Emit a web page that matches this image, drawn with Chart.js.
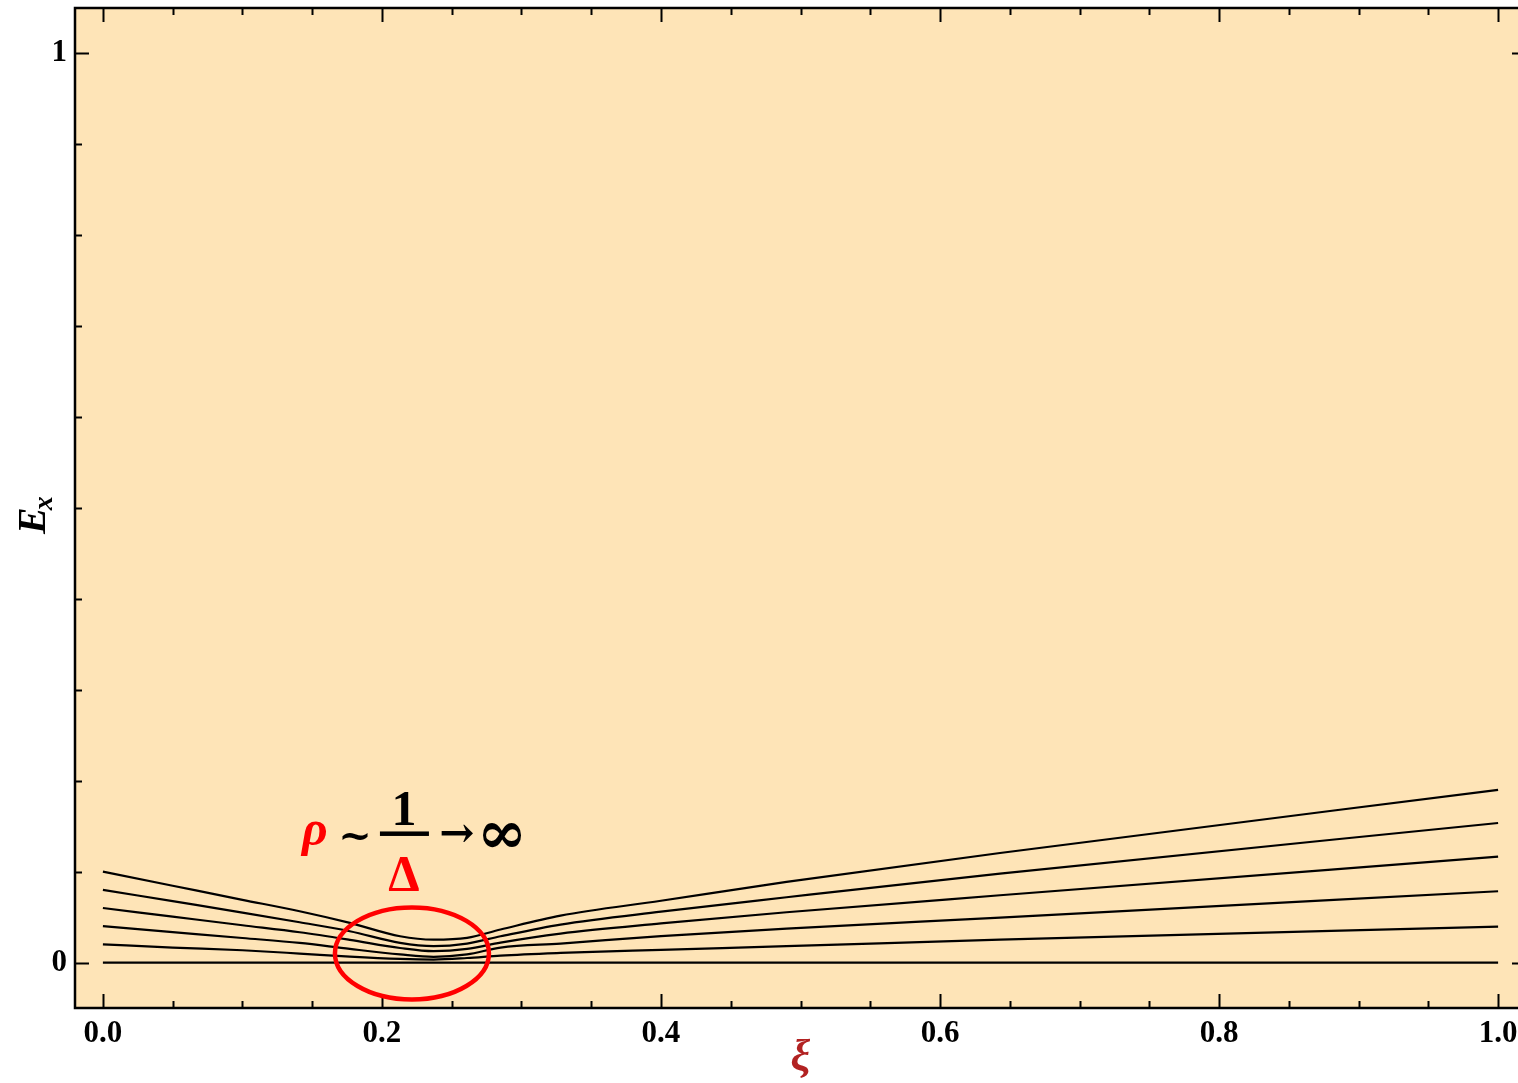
<!DOCTYPE html>
<html>
<head>
<meta charset="utf-8">
<script src="https://cdn.jsdelivr.net/npm/chart.js@4.4.1/dist/chart.umd.min.js"></script>
<style>
  html, body { margin: 0; padding: 0; background: #fff; overflow: hidden; }
  #wrap { width: 1534px; height: 1083px; position: relative; }
</style>
</head>
<body>
<div id="wrap"><canvas id="chart"></canvas></div>
<script>
const xi = [0, 0.05, 0.1, 0.141, 0.177, 0.213, 0.237, 0.261, 0.285, 0.328, 0.4, 0.49, 0.643, 1.0];

// E_x curves, top to bottom
const curve5 = [0.100, 0.0845, 0.069, 0.0564, 0.0436, 0.0289, 0.0252, 0.0272, 0.0363, 0.0516, 0.068, 0.0887, 0.1205, 0.190];
const curve4 = [0.080, 0.0675, 0.055, 0.0443, 0.0344, 0.0216, 0.0180, 0.0209, 0.0289, 0.0418, 0.056, 0.0718, 0.0978, 0.1535];
const curve3 = [0.060, 0.0505, 0.041, 0.0333, 0.025, 0.016, 0.0125, 0.015, 0.022, 0.0319, 0.043, 0.0553, 0.074, 0.1165];
const curve2 = [0.040, 0.0335, 0.027, 0.0216, 0.015, 0.009, 0.0063, 0.009, 0.0165, 0.0209, 0.029, 0.0374, 0.0495, 0.0784];
const curve1 = [0.020, 0.0165, 0.0135, 0.0099, 0.0065, 0.004, 0.0033, 0.005, 0.0077, 0.0106, 0.014, 0.018, 0.0253, 0.0396];
const curve0 = [0, 0, 0, 0, 0, 0, 0, 0, 0, 0, 0, 0, 0, 0];

// tick positions
const xMajor = [0, 0.2, 0.4, 0.6, 0.8, 1.0];
const xMinor = [0.05, 0.1, 0.15, 0.25, 0.3, 0.35, 0.45, 0.5, 0.55, 0.65, 0.7, 0.75, 0.85, 0.9, 0.95];
const yMajor = [0, 1];
const yMinor = [0.1, 0.2, 0.3, 0.4, 0.5, 0.6, 0.7, 0.8, 0.9];

// where the gap marker sits (data coords)
const gapCenter = { x: 0.2215, y: 0.01 };

const serif = '"Liberation Serif", "Times New Roman", serif';
const symFont = '"DejaVu Serif", serif';

function toPoints(ys) {
  return ys.map((y, i) => ({ x: xi[i], y: y }));
}

const frameAndTicks = {
  id: 'frameAndTicks',
  beforeDraw(chart) {
    const { ctx, chartArea: a } = chart;
    ctx.save();
    ctx.fillStyle = '#FEE4B7';
    ctx.fillRect(a.left, a.top, a.right - a.left, a.bottom - a.top);
    ctx.restore();
  },
  afterDraw(chart) {
    const { ctx, chartArea: a, scales } = chart;
    const xs = scales.x, ys = scales.y;
    ctx.save();
    ctx.strokeStyle = '#000';
    ctx.lineWidth = 2;
    ctx.beginPath();
    const xt = (v, len) => {
      const px = Math.round(xs.getPixelForValue(v)) + 0.5;
      ctx.moveTo(px, a.bottom); ctx.lineTo(px, a.bottom - len);
      ctx.moveTo(px, a.top); ctx.lineTo(px, a.top + len);
    };
    const yt = (v, len) => {
      const py = Math.round(ys.getPixelForValue(v)) + 0.5;
      ctx.moveTo(a.left, py); ctx.lineTo(a.left + len, py);
      ctx.moveTo(a.right, py); ctx.lineTo(a.right - len, py);
    };
    xMajor.forEach(v => xt(v, 14));
    xMinor.forEach(v => xt(v, 7));
    yMajor.forEach(v => yt(v, 14));
    yMinor.forEach(v => yt(v, 7));
    ctx.stroke();

    ctx.lineWidth = 2.5;
    ctx.strokeRect(a.left, a.top, a.right - a.left, a.bottom - a.top);

    // axis titles
    ctx.fillStyle = '#000';
    ctx.save();
    ctx.translate(45, 534);
    ctx.rotate(-Math.PI / 2);
    ctx.textBaseline = 'alphabetic';
    ctx.textAlign = 'left';
    ctx.font = 'bold italic 40px ' + serif;
    ctx.fillText('E', 0, 0);
    const ew = ctx.measureText('E').width;
    ctx.font = 'bold italic 28px ' + serif;
    ctx.fillText('x', ew - 3, 7);
    ctx.restore();

    ctx.fillStyle = '#B22222';
    ctx.font = 'bold italic 44px ' + serif;
    ctx.textAlign = 'center';
    ctx.textBaseline = 'alphabetic';
    ctx.fillText('\u03BE', xs.getPixelForValue(0.5), 1070);

    // gap annotation
    const cx = xs.getPixelForValue(gapCenter.x);
    const cy = ys.getPixelForValue(gapCenter.y);
    ctx.strokeStyle = '#FF0000';
    ctx.lineWidth = 4.5;
    ctx.beginPath();
    ctx.ellipse(cx, cy, 77, 46, 0, 0, Math.PI * 2);
    ctx.stroke();

    ctx.font = 'bold italic 50px ' + serif;
    ctx.fillStyle = '#FF0000';
    ctx.fillText('\u03C1', cx - 97, cy - 108);
    ctx.fillStyle = '#000';
    ctx.font = 'bold 40px ' + symFont;
    ctx.fillText('~', cx - 57, cy - 104);
    ctx.font = 'bold 50px ' + serif;
    ctx.fillText('1', cx - 8, cy - 128);
    ctx.fillRect(cx - 32, cy - 122, 49, 4.5);
    ctx.fillStyle = '#FF0000';
    ctx.fillText('\u0394', cx - 8, cy - 63);
    ctx.fillStyle = '#000';
    ctx.font = 'bold 42px ' + symFont;
    ctx.fillText('\u2192', cx + 45, cy - 106);
    ctx.font = 'bold 60px ' + symFont;
    ctx.fillText('\u221E', cx + 90, cy - 100);
    ctx.restore();
  }
};

const lineStyle = {
  borderColor: '#000',
  borderWidth: 2.2,
  pointRadius: 0,
  fill: false,
  cubicInterpolationMode: 'monotone'
};

new Chart(document.getElementById('chart'), {
  type: 'line',
  data: {
    datasets: [curve5, curve4, curve3, curve2, curve1, curve0].map((c, i) =>
      Object.assign({ label: 'c' + i, data: toPoints(c) }, lineStyle))
  },
  options: {
    responsive: true,
    maintainAspectRatio: false,
    animation: false,
    devicePixelRatio: 1,
    layout: { padding: { top: 8, right: 8, left: 0, bottom: 0 } },
    plugins: { legend: { display: false }, tooltip: { enabled: false } },
    scales: {
      x: {
        type: 'linear',
        min: -0.02,
        max: 1.02,
        grid: { display: false, drawTicks: false },
        border: { display: false },
        afterBuildTicks: axis => { axis.ticks = xMajor.map(v => ({ value: v })); },
        afterFit: axis => { axis.height = 75; axis.paddingLeft = 0; axis.paddingRight = 0; },
        ticks: {
          padding: 7,
          color: '#000',
          maxRotation: 0,
          autoSkip: false,
          font: { family: serif, size: 31, weight: 'bold' },
          callback: v => v.toFixed(1)
        }
      },
      y: {
        type: 'linear',
        min: -0.05,
        max: 1.05,
        grid: { display: false, drawTicks: false },
        border: { display: false },
        afterBuildTicks: axis => { axis.ticks = yMajor.map(v => ({ value: v })); },
        afterFit: axis => { axis.width = 75; axis.paddingTop = 0; axis.paddingBottom = 0; },
        ticks: {
          padding: 8,
          color: '#000',
          autoSkip: false,
          font: { family: serif, size: 31, weight: 'bold' },
          callback: v => String(v)
        }
      }
    }
  },
  plugins: [frameAndTicks]
});
</script>
</body>
</html>
